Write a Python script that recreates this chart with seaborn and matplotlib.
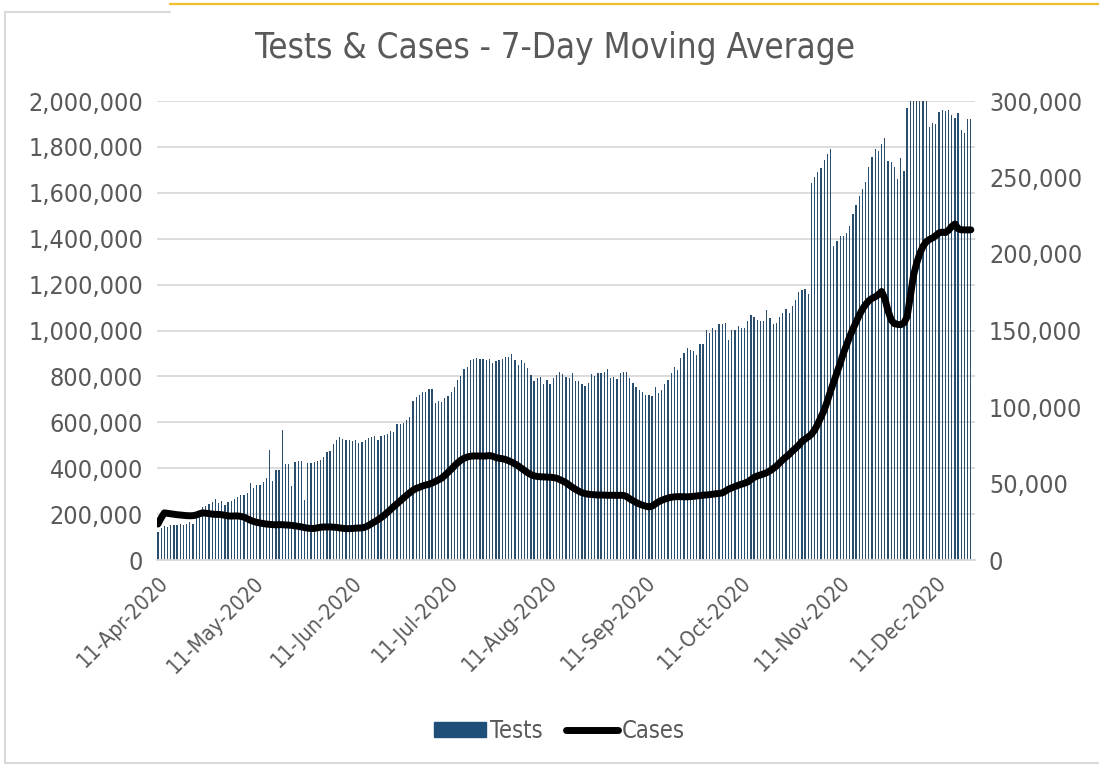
import matplotlib
matplotlib.use("Agg")
import matplotlib.pyplot as plt
from matplotlib.lines import Line2D
from matplotlib.ticker import FuncFormatter
import pandas as pd
import seaborn as sns

# 7-day moving averages, thousands, one value per day from 11-Apr-2020
tests_k = [
    120, 140, 149, 145, 153, 153, 153, 156, 152, 159,
    165, 158, 190, 200, 229, 237, 244, 254, 267, 247,
    258, 241, 253, 258, 266, 276, 283, 283, 290, 337,
    314, 327, 328, 342, 358, 480, 346, 391, 391, 565,
    419, 419, 324, 428, 431, 431, 263, 423, 423, 426,
    431, 436, 448, 470, 474, 507, 521, 536, 527, 521,
    521, 517, 521, 511, 515, 521, 531, 536, 539, 521,
    542, 546, 550, 561, 558, 591, 594, 599, 609, 623,
    691, 711,
    718, 733, 733, 743, 746, 686, 692, 689, 704, 715,
    730, 752, 784, 803, 831, 839, 872, 876, 879, 874,
    876, 872, 877, 857, 869, 872, 876, 883, 883, 896,
    872, 850, 872, 857, 838, 806, 781, 791, 799, 766,
    784, 765, 791,
    806, 820, 809, 799, 794, 813, 781, 781, 769, 758,
    772, 810, 803, 816, 816, 820, 831, 794, 799, 788,
    816, 820, 820, 794, 772, 755, 740, 733, 718, 718,
    715, 752, 726, 740, 766, 784, 816, 839, 828, 879,
    904, 923,
    916, 909, 892, 940, 940, 1004, 991, 1012, 1004, 1030,
    1027, 1033, 957, 1001, 1004, 1020, 1012, 1011, 1040, 1069,
    1059, 1044, 1040, 1040, 1091, 1056, 1027, 1033, 1059, 1078,
    1095, 1078, 1106, 1135, 1168, 1178, 1183, 1158, 1642, 1668,
    1690, 1710, 1744,
    1767, 1793, 1369, 1391, 1410, 1410, 1425, 1457, 1509, 1548,
    1585, 1618, 1648, 1713, 1755, 1789, 1784, 1811, 1840, 1738,
    1734, 1713, 1661, 1753, 1694, 1971, 2060, 2090, 2110, 2080,
    2050, 2030, 1887, 1905, 1901, 1952, 1961, 1956, 1961, 1939,
    1927, 1946, 1872, 1862, 1920, 1923,
]

cases_k = [
    23.5, 27.5, 30.8, 30.5, 30.2, 29.9, 29.6, 29.4, 29.2, 29.0,
    28.9, 29.0, 29.4, 30.2, 30.8, 30.6, 30.3, 30.0, 29.8, 29.8,
    29.6, 29.2, 28.8, 28.7, 28.8, 28.8, 28.5, 28.0, 27.0, 26.0,
    25.2, 24.6, 24.2, 23.8, 23.5, 23.3, 23.1, 23.0, 23.1, 23.1,
    22.9, 22.8, 22.6, 22.3, 22.0, 21.6, 21.2, 20.8, 20.6, 20.6,
    21.0, 21.4, 21.6, 21.6, 21.6, 21.5, 21.3, 21.0, 20.7, 20.5,
    20.5, 20.6, 20.8, 20.9, 21.0, 21.5, 22.5, 23.8, 25.0, 26.3,
    27.7, 29.3, 31.2, 33.0, 35.0, 36.8, 38.6, 40.5, 42.3, 44.0,
    45.6, 46.8, 47.5, 48.4, 49.0, 49.5, 50.3, 51.3, 52.4, 53.5,
    55.3, 57.3, 59.3, 61.5, 63.5, 65.2, 66.5, 67.3, 67.8, 68.0,
    68.0, 68.0, 67.9, 68.0, 68.3, 67.8, 67.0, 66.5, 66.2, 65.7,
    64.9, 63.9, 62.8, 61.5, 60.0, 58.5, 57.0, 55.8, 55.0, 54.6,
    54.4, 54.3, 54.2, 54.1, 53.9, 53.5, 52.6, 51.6, 50.5, 49.0,
    47.5, 46.2, 45.0, 44.0, 43.4, 43.0, 42.8, 42.6, 42.5, 42.5,
    42.4, 42.3, 42.3, 42.3, 42.2, 42.3, 42.2, 41.5, 40.0, 38.8,
    37.6, 36.6, 35.8, 35.2, 34.7, 35.2, 36.6, 38.0, 39.0, 39.8,
    40.5, 41.0, 41.3, 41.4, 41.4, 41.3, 41.3, 41.4, 41.6, 41.9,
    42.1, 42.4, 42.5, 42.7, 43.0, 43.3, 43.5, 43.8, 45.0, 46.3,
    47.2, 48.0, 48.8, 49.5, 50.2, 51.0, 52.5, 54.0, 54.9, 55.6,
    56.3, 57.1, 58.3, 59.8, 61.4, 63.5, 65.5, 67.3, 69.0, 71.2,
    73.0, 75.0, 77.5, 79.0, 80.5, 82.2, 85.0, 89.0, 93.5, 98.0,
    104.0, 110.5, 116.5, 122.5, 128.5, 135.0, 140.5, 146.0, 151.0, 155.5,
    160.0, 164.0, 167.0, 169.5, 171.0, 172.0, 173.5, 175.5, 171.0, 163.0,
    157.0, 154.5, 154.0, 153.8, 155.0, 159.0, 172.0, 186.0, 194.0, 200.5,
    205.0, 208.0, 209.5, 210.5, 212.0, 213.8, 214.3, 214.0, 215.5, 218.0,
    219.6, 216.5, 215.8, 215.8, 215.7, 215.8,
]

dates = pd.date_range("2020-04-11", periods=len(tests_k), freq="D")
df = pd.DataFrame({
    "day": range(len(dates)),
    "date": dates,
    "Tests": [v * 1000 for v in tests_k],
    "Cases": [v * 1000 for v in cases_k],
})

BLUE = "#1F4E79"
GREY_TXT = "#595959"
GRID = "#D9D9D9"

sns.set_style("white")
plt.rcParams["font.family"] = ["DejaVu Sans"]
plt.rcParams["font.stretch"] = "condensed"

fig = plt.figure(figsize=(10.99, 7.66), dpi=100)
ax = fig.add_axes([157 / 1099, 1 - 560 / 766, (975 - 157) / 1099, (560 - 101) / 766])

sns.barplot(data=df, x="day", y="Tests", native_scale=True, color=BLUE,
            width=0.4, errorbar=None, ax=ax, linewidth=0)
ax.set_ylim(0, 2_000_000)
ax.set_yticks(range(0, 2_000_001, 200_000))
ax.yaxis.set_major_formatter(FuncFormatter(lambda v, p: f"{int(v):,}"))
ax.grid(axis="y", color=GRID, linewidth=1.3)
ax.set_axisbelow(True)

ax2 = ax.twinx()
sns.lineplot(data=df, x="day", y="Cases", color="black", linewidth=5,
             ax=ax2, legend=False)
ax2.lines[0].set_solid_capstyle("round")
ax2.lines[0].set_solid_joinstyle("round")
ax2.set_ylim(0, 300_000)
ax2.set_yticks(range(0, 300_001, 50_000))
ax2.yaxis.set_major_formatter(FuncFormatter(lambda v, p: f"{int(v):,}"))

ax.set_xlim(-0.3, 256.3)
tick_days = df.loc[df["date"].dt.day == 11, "day"].tolist()
tick_labels = [d.strftime("%d-%b-%Y") for d in df.loc[df["date"].dt.day == 11, "date"]]
ax.set_xticks(tick_days)
ax.set_xticklabels(tick_labels, rotation=45, ha="right", rotation_mode="anchor")

for a in (ax, ax2):
    for s in a.spines.values():
        s.set_visible(False)
    a.set_xlabel("")
    a.set_ylabel("")
ax.spines["bottom"].set_visible(True)
ax.spines["bottom"].set_color(GRID)
ax.spines["bottom"].set_linewidth(1.3)

ax.tick_params(axis="x", colors=GRID, length=6, width=1.3, labelcolor=GREY_TXT,
               labelsize=15.5, pad=3)
ax.tick_params(axis="y", length=0, labelcolor=GREY_TXT, labelsize=18, pad=10)
ax2.tick_params(axis="y", length=0, labelcolor=GREY_TXT, labelsize=18, pad=10)

fig.text(0.505, 0.937, "Tests & Cases - 7-Day Moving Average", ha="center",
         va="center", fontsize=25, color=GREY_TXT)

handles = [plt.Rectangle((0, 0), 1, 1, color=BLUE),
           Line2D([0], [0], color="black", linewidth=5, solid_capstyle="round")]
fig.legend(handles, ["Tests", "Cases"], loc="center", bbox_to_anchor=(0.509, 0.046),
           ncol=2, frameon=False, fontsize=17, handlelength=2.2, handleheight=0.55,
           handletextpad=0.15, columnspacing=1.0, labelcolor=GREY_TXT)

# chart frame and page accent line from the screenshot
fig.add_artist(Line2D([5 / 1099, 5 / 1099], [1 - 12 / 766, 1 - 763 / 766],
                      transform=fig.transFigure, color=GRID, linewidth=1.5))
fig.add_artist(Line2D([5 / 1099, 1], [1 - 763 / 766, 1 - 763 / 766],
                      transform=fig.transFigure, color=GRID, linewidth=1.5))
fig.add_artist(Line2D([5 / 1099, 170 / 1099], [1 - 12 / 766, 1 - 12 / 766],
                      transform=fig.transFigure, color=GRID, linewidth=1.5))
fig.add_artist(Line2D([170 / 1099, 1], [1 - 4 / 766, 1 - 4 / 766],
                      transform=fig.transFigure, color="#F2BE2A", linewidth=1.6))

fig.savefig("out.png", dpi=100)
